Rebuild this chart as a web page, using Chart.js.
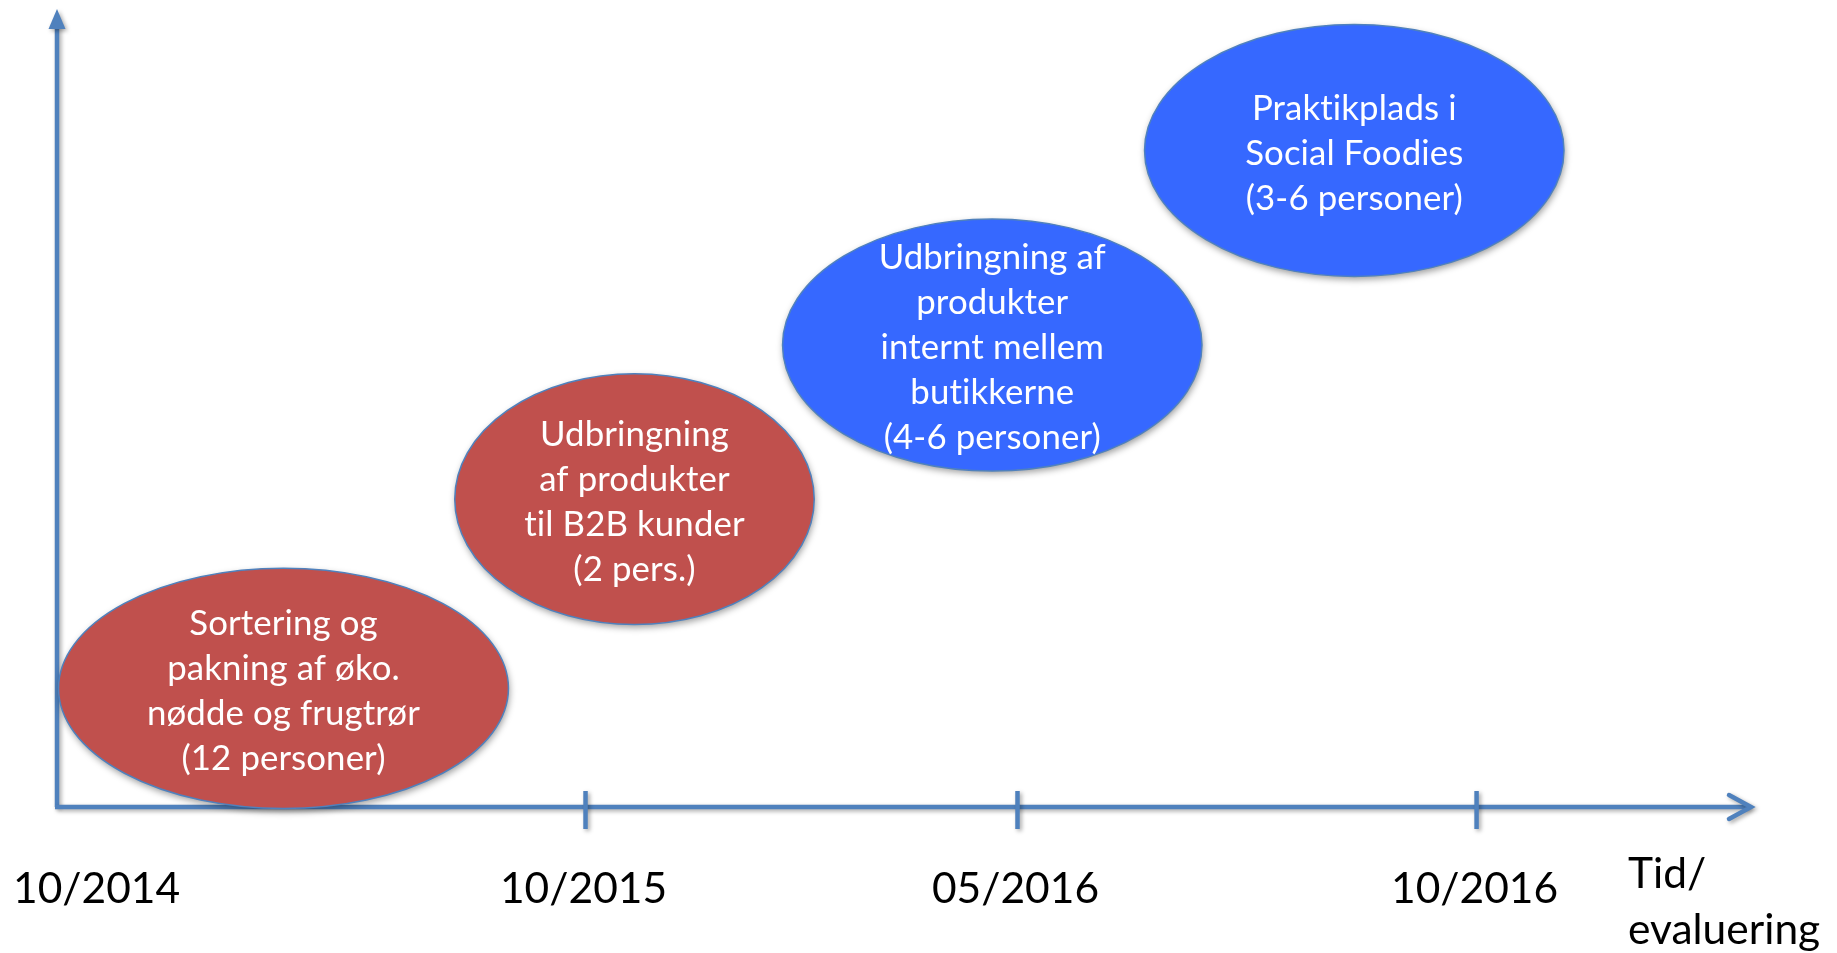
<!DOCTYPE html>
<html>
<head>
<meta charset="utf-8">
<script src="https://cdn.jsdelivr.net/npm/chart.js@4.4.0/dist/chart.umd.min.js"></script>
<style>
  html, body { margin: 0; padding: 0; background: #fff; }
  #wrap { width: 1837px; height: 953px; position: relative; }
</style>
</head>
<body>
<div id="wrap"><canvas id="tidslinje"></canvas></div>
<script>
// --- Data ---
const tickLabels = ['10/2014', '10/2015', '05/2016', '10/2016'];
const tickPos = [0, 31.2, 56.7, 83.8];           // position along the time axis (0-100)
const axisTitle = ['Tid/', 'evaluering'];

const activityText = [
    ['Sortering og', 'pakning af øko.', 'nødde og frugtrør', '(12 personer)'],
    ['Udbringning', 'af produkter', 'til B2B kunder', '(2 pers.)'],
    ['Udbringning af', 'produkter', 'internt mellem', 'butikkerne', '(4-6 personer)'],
    ['Praktikplads i', 'Social Foodies', '(3-6 personer)']
];
const centerX = [13.37, 34.09, 55.21, 76.58];
const centerY = [14.87, 38.58, 57.89, 82.27];
const radiusX = [13.28, 10.61, 12.38, 12.38];
const radiusY = [15.05, 15.71, 15.79, 15.79];
const activityGroup = ['rød', 'rød', 'blå', 'blå'];

const groupColors = { 'rød': '#C0504D', 'blå': '#3668FF' };
const axisColor = '#4F81BD';
const labelFont = '42.5px Lato';
const bubbleFont = '34.8px Lato';

// --- Axes with arrows, ticks and labels ---
const axesPlugin = {
    id: 'axesPlugin',
    beforeDatasetsDraw(chart) {
        const { ctx, chartArea: a, scales: { x } } = chart;
        ctx.save();
        ctx.strokeStyle = axisColor;
        ctx.fillStyle = axisColor;
        ctx.lineWidth = 4.5;
        ctx.shadowColor = 'rgba(0,0,0,0.35)';
        ctx.shadowBlur = 4;
        ctx.shadowOffsetX = 2;
        ctx.shadowOffsetY = 2;

        // y-axis with filled arrow head
        ctx.beginPath();
        ctx.moveTo(a.left, a.bottom);
        ctx.lineTo(a.left, a.top + 16);
        ctx.stroke();
        ctx.beginPath();
        ctx.moveTo(a.left, a.top);
        ctx.lineTo(a.left - 8.5, a.top + 20);
        ctx.lineTo(a.left + 8.5, a.top + 20);
        ctx.closePath();
        ctx.fill();

        // x-axis with open arrow head
        ctx.beginPath();
        ctx.moveTo(a.left - 2, a.bottom);
        ctx.lineTo(a.right - 2, a.bottom);
        ctx.stroke();
        ctx.lineCap = 'round';
        ctx.beginPath();
        ctx.moveTo(a.right - 22, a.bottom - 12);
        ctx.lineTo(a.right, a.bottom);
        ctx.lineTo(a.right - 22, a.bottom + 12);
        ctx.stroke();
        ctx.lineCap = 'butt';

        // tick marks (not at the origin)
        tickPos.forEach(v => {
            if (v === 0) return;
            const px = x.getPixelForValue(v);
            ctx.beginPath();
            ctx.moveTo(px, a.bottom - 16);
            ctx.lineTo(px, a.bottom + 22);
            ctx.stroke();
        });
        ctx.restore();

        // tick labels
        ctx.save();
        ctx.font = labelFont;
        ctx.fillStyle = '#000';
        ctx.textBaseline = 'middle';
        ctx.textAlign = 'left';
        tickLabels.forEach((t, i) => {
            const w = ctx.measureText(t).width;
            let left = x.getPixelForValue(tickPos[i]) - w / 2 - 2;
            if (left < 13) left = 13;
            ctx.fillText(t, left, a.bottom + 82);
        });
        axisTitle.forEach((t, i) => {
            ctx.fillText(t, 1628, a.bottom + 67 + i * 56);
        });
        ctx.restore();
    }
};

// --- Ellipses drawn at the dataset points ---
const ellipsePlugin = {
    id: 'ellipsePlugin',
    afterDatasetsDraw(chart) {
        const { ctx, scales: { x, y } } = chart;
        const meta = chart.getDatasetMeta(0);
        meta.data.forEach((pt, i) => {
            const rx = x.getPixelForValue(centerX[i] + radiusX[i]) - pt.x;
            const ry = pt.y - y.getPixelForValue(centerY[i] + radiusY[i]);
            ctx.save();
            ctx.shadowColor = 'rgba(0,0,0,0.4)';
            ctx.shadowBlur = 7;
            ctx.shadowOffsetX = 1;
            ctx.shadowOffsetY = 3;
            ctx.beginPath();
            ctx.ellipse(pt.x, pt.y, rx, ry, 0, 0, Math.PI * 2);
            ctx.fillStyle = groupColors[activityGroup[i]];
            ctx.fill();
            ctx.shadowColor = 'transparent';
            ctx.lineWidth = 1.5;
            ctx.strokeStyle = axisColor;
            ctx.stroke();

            const lines = activityText[i];
            const lh = 44.9;
            ctx.font = bubbleFont;
            ctx.letterSpacing = '0.1px';   // keeps "ti" from turning into a ligature
            ctx.fillStyle = '#fff';
            ctx.textAlign = 'center';
            ctx.textBaseline = 'middle';
            lines.forEach((l, k) => {
                ctx.fillText(l, pt.x, pt.y + 3 + (k - (lines.length - 1) / 2) * lh);
            });
            ctx.restore();
        });
    }
};

const ctx = document.getElementById('tidslinje').getContext('2d');
new Chart(ctx, {
    type: 'scatter',
    data: {
        datasets: [{
            label: 'Aktiviteter',
            data: centerX.map((v, i) => ({ x: v, y: centerY[i] })),
            pointRadius: 0,
            pointHoverRadius: 0
        }]
    },
    options: {
        responsive: true,
        maintainAspectRatio: false,
        animation: false,
        layout: { padding: { left: 57, top: 9, right: 86, bottom: 146 } },
        scales: {
            x: { type: 'linear', min: 0, max: 100, display: false },
            y: { type: 'linear', min: 0, max: 100, display: false }
        },
        plugins: {
            legend: { display: false },
            tooltip: { enabled: false }
        }
    },
    plugins: [axesPlugin, ellipsePlugin]
});
</script>
</body>
</html>
